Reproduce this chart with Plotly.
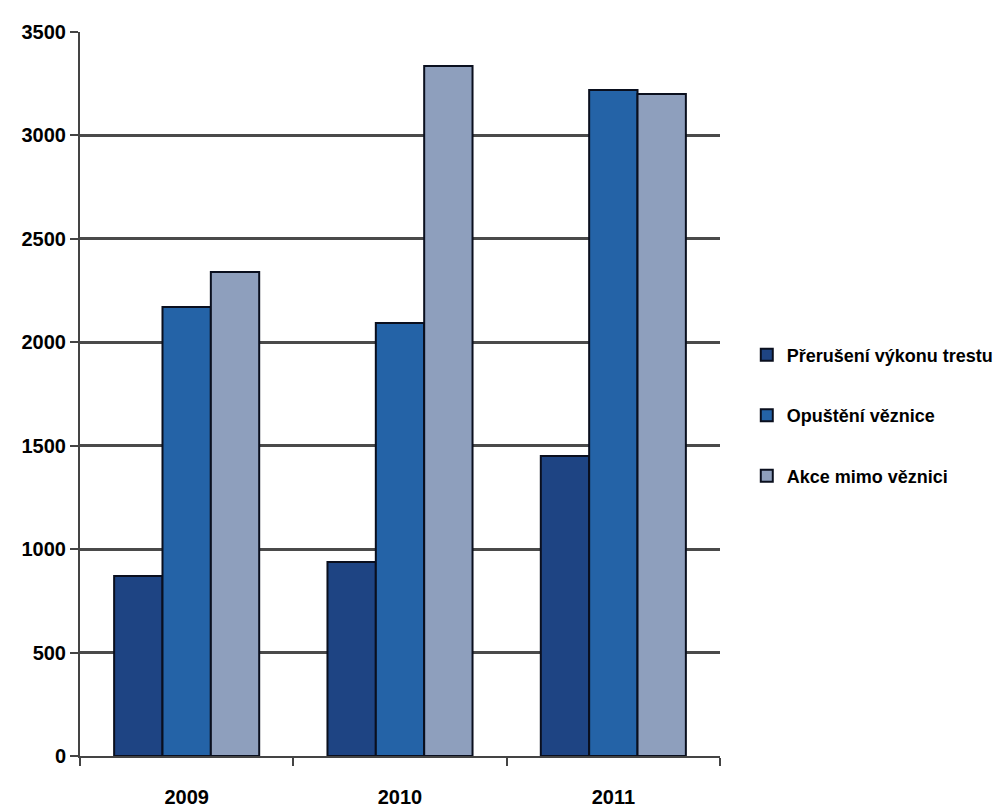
import plotly.graph_objects as go

years = ["2009", "2010", "2011"]
series_names = ["Přerušení výkonu trestu", "Opuštění věznice", "Akce mimo věznici"]
preruseni = [870, 938, 1450]
opusteni = [2170, 2093, 3220]
akce = [2340, 3336, 3200]
y_ticks = [0, 500, 1000, 1500, 2000, 2500, 3000, 3500]

colors = ["#1E4483", "#2463A7", "#8E9FBD"]
values = [preruseni, opusteni, akce]

FONT = "Liberation Sans, DejaVu Sans Condensed, sans-serif"

fig = go.Figure()
for i, (name, vals) in enumerate(zip(series_names, values)):
    fig.add_trace(go.Bar(
        x=years, y=vals, name=name,
        marker=dict(color=colors[i], line=dict(color="#0A0F1E", width=2)),
        legendgroup=f"g{i}",
    ))

fig.update_layout(
    width=989, height=804,
    margin=dict(l=72, r=277, t=24, b=56, autoexpand=False),
    paper_bgcolor="white", plot_bgcolor="white",
    barmode="group", bargap=0.32, bargroupgap=0,
    font=dict(family=FONT, size=19, color="black"),
    showlegend=True,
    legend=dict(
        xref="container", yref="container",
        x=0.747, y=0.493, xanchor="left", yanchor="middle",
        font=dict(family=FONT, size=18, color="black", weight="bold"),
        tracegroupgap=34, bgcolor="rgba(0,0,0,0)",
    ),
    xaxis=dict(
        showline=True, linecolor="#444", linewidth=2,
        ticks="outside", tickson="boundaries", ticklen=8, tickcolor="#444", tickwidth=2,
        tickfont=dict(family=FONT, size=20, color="black", weight="bold"),
        ticklabelstandoff=22,
        showgrid=False,
    ),
    yaxis=dict(
        range=[0, 3500], tickvals=y_ticks,
        showline=True, linecolor="#444", linewidth=2,
        ticks="outside", ticklen=8, tickcolor="#444", tickwidth=2,
        tickfont=dict(family=FONT, size=20, color="black", weight="bold"),
        showgrid=True, gridcolor="#4a4a4a", gridwidth=2.5,
        zeroline=False,
    ),
)

fig.write_html("out.html")
